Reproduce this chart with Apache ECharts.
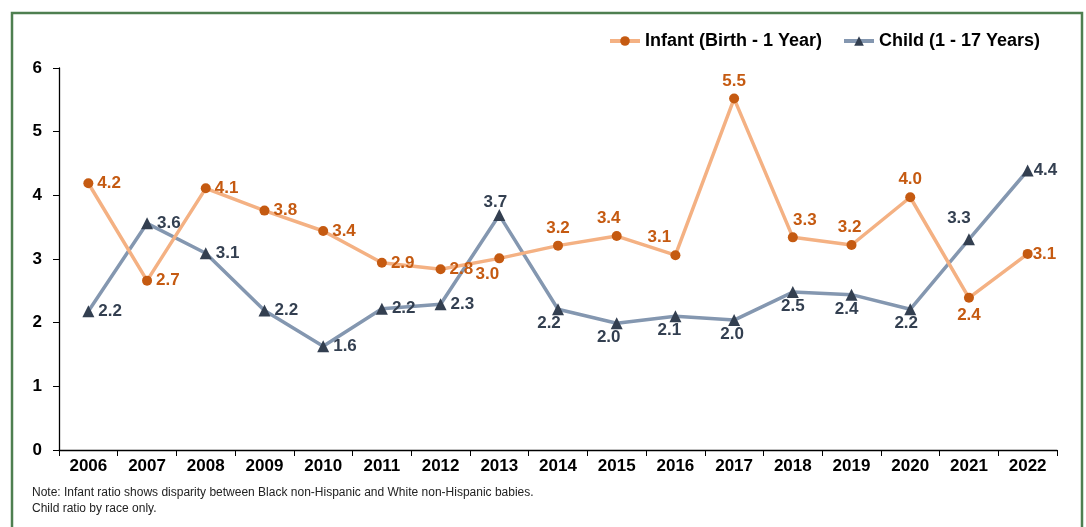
<!DOCTYPE html>
<html>
<head>
<meta charset="utf-8">
<script src="https://cdn.jsdelivr.net/npm/echarts@6/dist/echarts.min.js"></script>
<style>
html,body{margin:0;padding:0;background:#fff;}
#chart{width:1086px;height:527px;}
</style>
</head>
<body>
<div id="chart"></div>
<script>
const years = ['2006','2007','2008','2009','2010','2011','2012','2013','2014','2015','2016','2017','2018','2019','2020','2021','2022'];
const infant = [4.19, 2.66, 4.11, 3.76, 3.44, 2.94, 2.84, 3.01, 3.21, 3.36, 3.06, 5.52, 3.34, 3.22, 3.97, 2.39, 3.08];
const child  = [2.18, 3.56, 3.09, 2.19, 1.63, 2.22, 2.29, 3.69, 2.21, 1.99, 2.10, 2.04, 2.48, 2.44, 2.21, 3.31, 4.39];
const yTicks = [0, 1, 2, 3, 4, 5, 6];
const seriesNames = ['Infant (Birth - 1 Year)', 'Child (1 - 17 Years)'];
const noteLines = ['Note: Infant ratio shows disparity between Black non-Hispanic and White non-Hispanic babies.', 'Child ratio by race only.'];

// label placement (style only)
const infantPos = ['right','right','right','right','right','right','right','bottom','top','top','top','top','top','top','top','bottom','right'];
const infantOff = [[0,0],[0,0],[0,0],[0,0],[0,0],[0,0],[0,0],[-12,-2],[0,0],[-8,0],[-16,0],[0,0],[12,0],[-2,0],[0,0],[0,0],[-4,0]];
const childPos = ['right','right','right','right','right','right','right','top','bottom','bottom','bottom','bottom','bottom','bottom','bottom','top','right'];
const childOff = [[0,0],[0,0],[0,0],[0,0],[0,0],[0,0],[0,0],[-4,6],[-9,-4],[-8,-4],[-6,-4],[-2,-4],[0,-4],[-5,-4],[-4,-4],[-10,-2],[-4,0]];

const FONT = '"Liberation Sans", Arial, sans-serif';
const fmt = v => (Math.round(v * 10) / 10).toFixed(1);

function build(values, pos, off, color) {
  return values.map((v, i) => ({
    value: v,
    label: { show: true, position: pos[i], offset: off[i], formatter: p => fmt(p.value), color: color,
             fontFamily: FONT, fontWeight: 'bold', fontSize: 17, distance: 4 }
  }));
}

const chart = echarts.init(document.getElementById('chart'), null, { renderer: 'canvas' });
chart.setOption({
  animation: false,
  backgroundColor: '#ffffff',
  textStyle: { fontFamily: FONT },
  grid: { left: 59, right: 29, top: 68, bottom: 77, containLabel: false },
  legend: {
    data: seriesNames,
    left: 603, top: 27,
    itemWidth: 30, itemHeight: 12, itemGap: 20,
    lineStyle: { width: 4 },
    textStyle: { fontFamily: FONT, fontWeight: 'bold', fontSize: 18, color: '#000' }
  },
  graphic: [
    { type: 'rect', shape: { x: 12, y: 13, width: 1070, height: 540 }, style: { fill: 'none', stroke: '#4E7F50', lineWidth: 2.5 }, silent: true },
    { type: 'text', left: 32, top: 485, style: { text: noteLines.join('\n'), fontFamily: FONT, fontSize: 12, lineHeight: 16, fill: '#222' } }
  ],
  xAxis: {
    type: 'category', data: years, boundaryGap: true,
    axisLine: { lineStyle: { color: '#000', width: 1.3 } },
    axisTick: { show: true, alignWithLabel: false, length: 6, lineStyle: { color: '#000' } },
    axisLabel: { fontFamily: FONT, fontWeight: 'bold', fontSize: 17, color: '#000', margin: 8, interval: 0 }
  },
  yAxis: {
    type: 'value', min: yTicks[0], max: yTicks[yTicks.length - 1], interval: 1,
    axisLine: { show: true, lineStyle: { color: '#000', width: 1.3 } },
    axisTick: { show: true, length: 6, lineStyle: { color: '#000' } },
    splitLine: { show: false },
    axisLabel: { fontFamily: FONT, fontWeight: 'bold', fontSize: 17, color: '#000', margin: 17 }
  },
  series: [
    {
      name: seriesNames[0], type: 'line', data: build(infant, infantPos, infantOff, '#C55A11'),
      symbol: 'circle', symbolSize: 10,
      lineStyle: { color: '#F4B183', width: 3.5 },
      itemStyle: { color: '#C55A11' }, z: 3
    },
    {
      name: seriesNames[1], type: 'line', data: build(child, childPos, childOff, '#333F50'),
      symbol: 'triangle', symbolSize: 12,
      lineStyle: { color: '#8497B0', width: 3.5 },
      itemStyle: { color: '#333F50' }, z: 2
    }
  ]
});
</script>
</body>
</html>
